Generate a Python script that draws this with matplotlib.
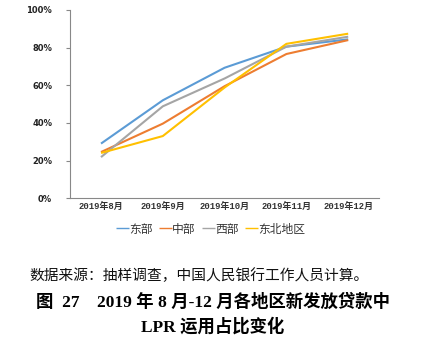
import matplotlib
matplotlib.use("Agg")
import matplotlib.pyplot as plt
from matplotlib.ticker import FuncFormatter

plt.rcParams['font.family'] = ['Noto Sans CJK SC', 'DejaVu Sans']

categories = ["2019年8月", "2019年9月", "2019年10月", "2019年11月", "2019年12月"]
series_names = ["东部", "中部", "西部", "东北地区"]
east = [29.0, 52.0, 69.3, 80.5, 84.4]
middle = [24.5, 39.6, 59.5, 76.6, 84.0]
west = [21.8, 48.8, 63.6, 80.5, 85.8]
northeast = [24.0, 33.0, 58.8, 82.0, 87.4]
colors = ["#5B9BD5", "#ED7D31", "#A5A5A5", "#FFC000"]
yticks = [0, 20, 40, 60, 80, 100]

fig = plt.figure(figsize=(4.25, 3.44), dpi=100)
ax = fig.add_axes([0.165, 0.424, 0.727, 0.547])
x = list(range(len(categories)))
for vals, name, c in zip([east, middle, west, northeast], series_names, colors):
    ax.plot(x, vals, color=c, lw=1.5, label=name, solid_capstyle='butt')

ax.set_xlim(-0.5, len(categories) - 0.5)
ax.set_ylim(0, 100)
ax.set_yticks(yticks)
ax.yaxis.set_major_formatter(FuncFormatter(lambda v, p: f"{int(v)}%"))
ax.set_xticks(x)
ax.set_xticklabels(categories)
for lab in ax.get_xticklabels():
    lab.set_fontsize(6.4)
    lab.set_family(['Liberation Mono', 'Noto Sans CJK SC'])
    lab.set_fontweight('bold')
for lab in ax.get_yticklabels():
    lab.set_fontsize(6)
    lab.set_fontweight('bold')
    lab.set_family('DejaVu Sans')
ax.tick_params(axis='x', length=0, pad=3, colors='#333333')
ax.tick_params(axis='y', length=3, width=0.8, color='#888888', pad=10, labelcolor='#222222')
for s in ['top', 'right']:
    ax.spines[s].set_visible(False)
for s in ['left', 'bottom']:
    ax.spines[s].set_color('#888888')
    ax.spines[s].set_linewidth(0.8)

leg = fig.legend(loc='center', bbox_to_anchor=(0.495, 0.334), ncol=4, frameon=False,
                 fontsize=8.5, handlelength=1.1, handletextpad=0.05, columnspacing=0.5)
for h in leg.get_lines():
    h.set_linewidth(1.0)
for t in leg.get_texts():
    t.set_color('#333333')

fig.text(0.07, 0.198, "数据来源：抽样调查，中国人民银行工作人员计算。", fontsize=10.6, ha='left', va='center', color='#111111')
fig.text(0.5, 0.122, "图  27    2019 年 8 月-12 月各地区新发放贷款中", fontsize=12.5, fontweight='bold',
         ha='center', va='center', family=['Liberation Serif', 'Noto Sans CJK SC'])
fig.text(0.5, 0.05, "LPR 运用占比变化", fontsize=12.5, fontweight='bold', ha='center', va='center',
         family=['Liberation Serif', 'Noto Sans CJK SC'])

fig.savefig("out.png", dpi=100)
